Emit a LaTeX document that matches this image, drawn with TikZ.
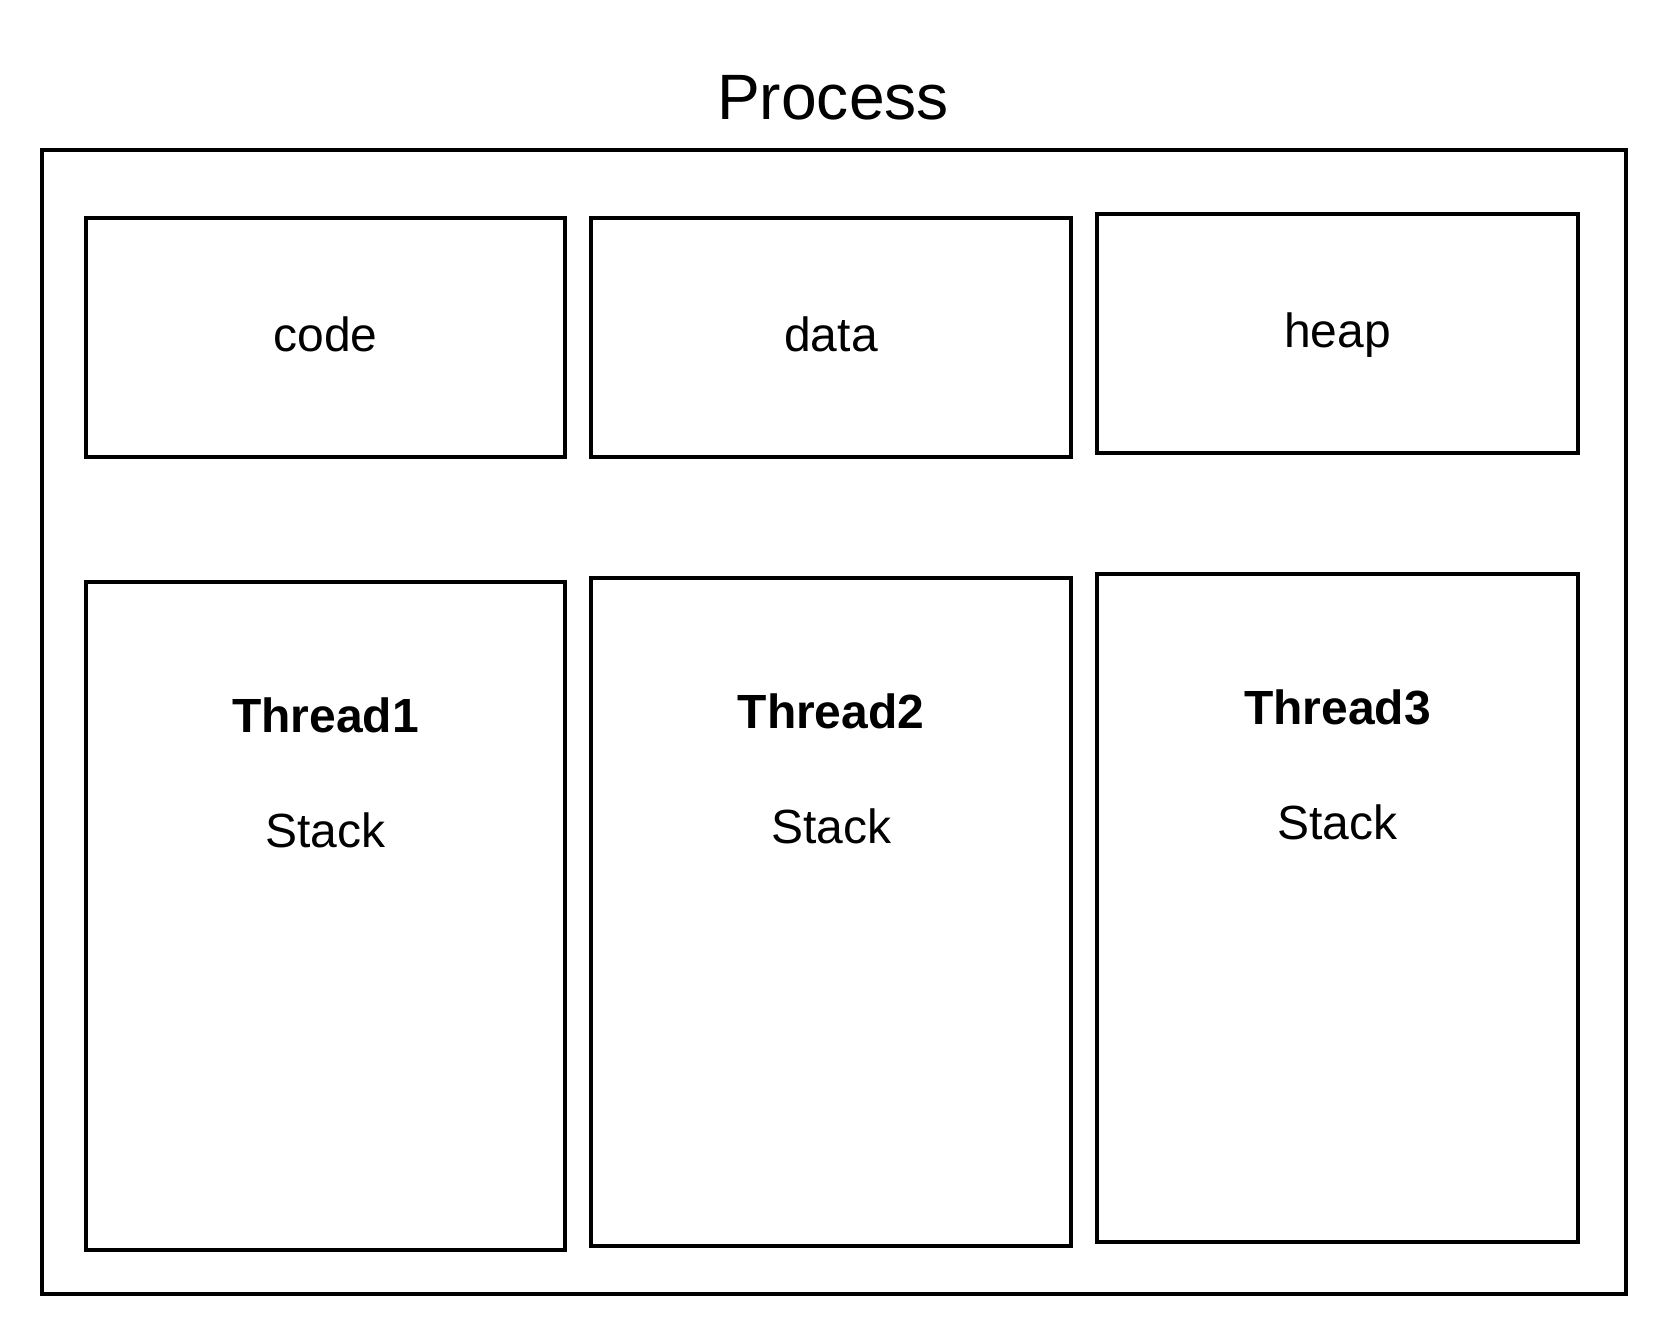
\documentclass[tikz,border=0pt]{standalone}
\usepackage{fontspec}
\setmainfont{Liberation Sans}
\begin{document}
\begin{tikzpicture}[
		line width=2.28pt,
		part/.style={rectangle,draw,inner sep=0pt,font=\fontsize{27.3}{32}\selectfont,text height=22.4pt,text depth=6pt},
		threadname/.style={anchor=base,inner sep=0pt,font=\fontsize{27.3}{32}\selectfont\bfseries},
		stacktext/.style={anchor=base,inner sep=0pt,font=\fontsize{27.3}{32}\selectfont}
	]
	\useasboundingbox (0,0) rectangle (33.36,26.72);
	\node[anchor=base,inner sep=0pt,font=\fontsize{36.5}{44}\selectfont] (title) at (16.66,24.32) {Process};
	\node[part,minimum width=31.68cm,minimum height=22.88cm] (process) at (16.68,12.28) {};
	\node[part,minimum width=9.58cm,minimum height=4.78cm] (code) at (6.51,19.97) {code};
	\node[part,minimum width=9.6cm,minimum height=4.78cm] (data) at (16.62,19.97) {data};
	\node[part,minimum width=9.62cm,minimum height=4.78cm] (heap) at (26.75,20.05) {heap};
	\node[part,minimum width=9.58cm,minimum height=13.36cm] (thread1) at (6.51,8.40) {};
	\node[part,minimum width=9.6cm,minimum height=13.36cm] (thread2) at (16.62,8.48) {};
	\node[part,minimum width=9.62cm,minimum height=13.36cm] (thread3) at (26.75,8.56) {};
	\node[threadname] (name1) at ([yshift=-3.06cm]thread1.center |- thread1.north) {Thread1};
	\node[stacktext] (stack1) at ([yshift=-5.36cm]thread1.center |- thread1.north) {Stack};
	\node[threadname] (name2) at ([yshift=-3.06cm]thread2.center |- thread2.north) {Thread2};
	\node[stacktext] (stack2) at ([yshift=-5.36cm]thread2.center |- thread2.north) {Stack};
	\node[threadname] (name3) at ([yshift=-3.06cm]thread3.center |- thread3.north) {Thread3};
	\node[stacktext] (stack3) at ([yshift=-5.36cm]thread3.center |- thread3.north) {Stack};
\end{tikzpicture}
\end{document}
